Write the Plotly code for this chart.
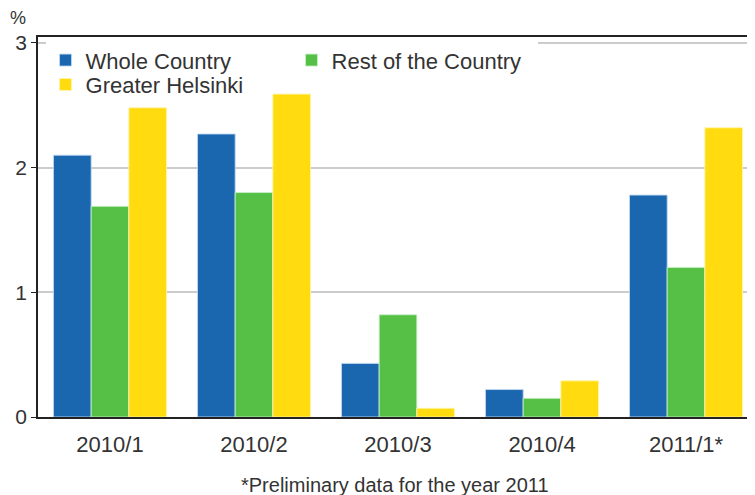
import plotly.graph_objects as go

categories = ["2010/1", "2010/2", "2010/3", "2010/4", "2011/1*"]
whole_country = [2.10, 2.27, 0.43, 0.22, 1.78]
rest_of_country = [1.69, 1.80, 0.82, 0.15, 1.20]
greater_helsinki = [2.48, 2.59, 0.07, 0.29, 2.32]
y_ticks = [0, 1, 2, 3]

FONT = "Liberation Sans, Arial, sans-serif"
TXT = "#333333"

fig = go.Figure()
series = [
    ("Whole Country", whole_country, "#1a67b0", "rgba(190,215,240,0.9)", "legend"),
    ("Rest of the Country", rest_of_country, "#55c045", "rgba(200,240,200,0.9)", "legend"),
    ("Greater Helsinki", greater_helsinki, "#ffdb10", "rgba(255,245,170,0.9)", "legend2"),
]
for name, vals, col, edge, lg in series:
    fig.add_trace(go.Bar(
        x=categories, y=vals, name=name, legend=lg,
        marker=dict(color=col, line=dict(color=edge, width=1)),
    ))

legend_common = dict(
    orientation="h", xanchor="left", yanchor="top", borderwidth=0,
    font=dict(family=FONT, size=22, color=TXT),
    traceorder="normal", itemclick=False,
)

fig.update_layout(
    width=747, height=487,
    margin=dict(l=30, r=0, t=29, b=78, autoexpand=False),
    paper_bgcolor="white", plot_bgcolor="white",
    barmode="group", bargap=0.215, bargroupgap=0,
    font=dict(family=FONT, size=20, color=TXT),
    showlegend=True,
    legend=dict(x=0.0105, y=0.994, bgcolor="white", entrywidth=201, **legend_common),
    legend2=dict(x=0.0105, y=0.93, bgcolor="rgba(0,0,0,0)", **legend_common),
    xaxis=dict(
        range=[-0.5, 4.479], showline=True, linecolor="#222222", linewidth=1.5,
        mirror=True, ticks="", showgrid=False, automargin=False,
        tickfont=dict(family=FONT, size=22, color=TXT),
        ticklabelstandoff=7,
    ),
    yaxis=dict(
        range=[0, 3.048], tickvals=y_ticks, ticktext=[str(v) for v in y_ticks],
        showline=True, linecolor="#222222", linewidth=1.5, automargin=False,
        ticks="outside", ticklen=5, tickcolor="#222222", tickwidth=1,
        showgrid=True, gridcolor="#cccccc", gridwidth=2,
        zeroline=False,
        tickfont=dict(family=FONT, size=21, color=TXT),
    ),
    annotations=[
        dict(text="%", xref="paper", yref="paper", x=-0.028, y=1.05,
             xanchor="center", yanchor="middle", showarrow=False,
             font=dict(family=FONT, size=18, color=TXT)),
        dict(text="*Preliminary data for the year 2011", xref="paper", yref="paper",
             x=0.498, y=-0.18, xanchor="center", yanchor="middle", showarrow=False,
             font=dict(family=FONT, size=20, color=TXT)),
    ],
)

fig.write_html("out.html")
